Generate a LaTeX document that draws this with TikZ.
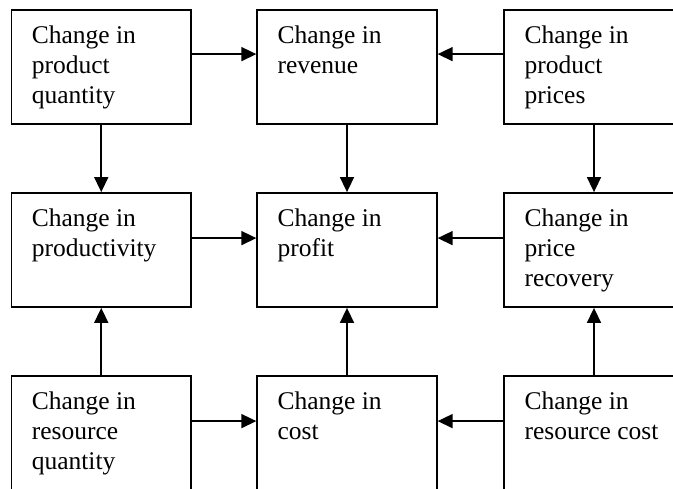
\documentclass[tikz,border=0pt]{standalone}
\usepackage{fontspec}
\setmainfont{Liberation Serif}
\usetikzlibrary{arrows.meta,calc}
\begin{document}
\begin{tikzpicture}[x=1pt,y=-1pt,
  box/.style={draw,line width=1.8pt,rectangle,minimum width=179.5pt,minimum height=114pt,inner sep=0pt},
  txt/.style={anchor=north west,inner sep=0pt,align=left,font=\fontsize{25.5}{30}\selectfont},
  arr/.style={line width=1.6pt,-{Triangle[length=15pt,width=14pt]}}]
\useasboundingbox (0,0) rectangle (673,488);
\clip (0,0) rectangle (673,488);
% three columns by three rows of boxes
\node[box] (pq) at (101.25,67) {};
\node[box] (rv) at (347,67) {};
\node[box] (pp) at (594,67) {};
\node[box] (pr) at (101.25,250) {};
\node[box] (pf) at (347,250) {};
\node[box] (rc) at (594,250) {};
\node[box] (rq) at (101.25,433) {};
\node[box] (co) at (347,433) {};
\node[box] (cr) at (594,433) {};
% box texts
\node[txt] (pqt) at ($(pq.north west)+(21,16.5)$) {Change in\\product\\quantity};
\node[txt] (rvt) at ($(rv.north west)+(21,16.5)$) {Change in\\revenue};
\node[txt] (ppt) at ($(pp.north west)+(21,16.5)$) {Change in\\product\\prices};
\node[txt] (prt) at ($(pr.north west)+(21,16.5)$) {Change in\\productivity};
\node[txt] (pft) at ($(pf.north west)+(21,16.5)$) {Change in\\profit};
\node[txt] (rct) at ($(rc.north west)+(21,16.5)$) {Change in\\price\\recovery};
\node[txt] (rqt) at ($(rq.north west)+(21,16.5)$) {Change in\\resource\\quantity};
\node[txt] (cot) at ($(co.north west)+(21,16.5)$) {Change in\\cost};
\node[txt] (crt) at ($(cr.north west)+(21,16.5)$) {Change in\\resource cost};
% horizontal links
\draw[arr] ($(pq.north east)+(0,45)$) -- ($(rv.north west)+(0,45)$);
\draw[arr] ($(pp.north west)+(0,45)$) -- ($(rv.north east)+(0,45)$);
\draw[arr] ($(pr.north east)+(0,46)$) -- ($(pf.north west)+(0,46)$);
\draw[arr] ($(rc.north west)+(0,46)$) -- ($(pf.north east)+(0,46)$);
\draw[arr] ($(rq.north east)+(0,46)$) -- ($(co.north west)+(0,46)$);
\draw[arr] ($(cr.north west)+(0,46)$) -- ($(co.north east)+(0,46)$);
% vertical links
\draw[arr] (pq.south) -- (pr.north);
\draw[arr] (rv.south) -- (pf.north);
\draw[arr] (pp.south) -- (rc.north);
\draw[arr] (rq.north) -- (pr.south);
\draw[arr] (co.north) -- (pf.south);
\draw[arr] (cr.north) -- (rc.south);
\end{tikzpicture}
\end{document}
